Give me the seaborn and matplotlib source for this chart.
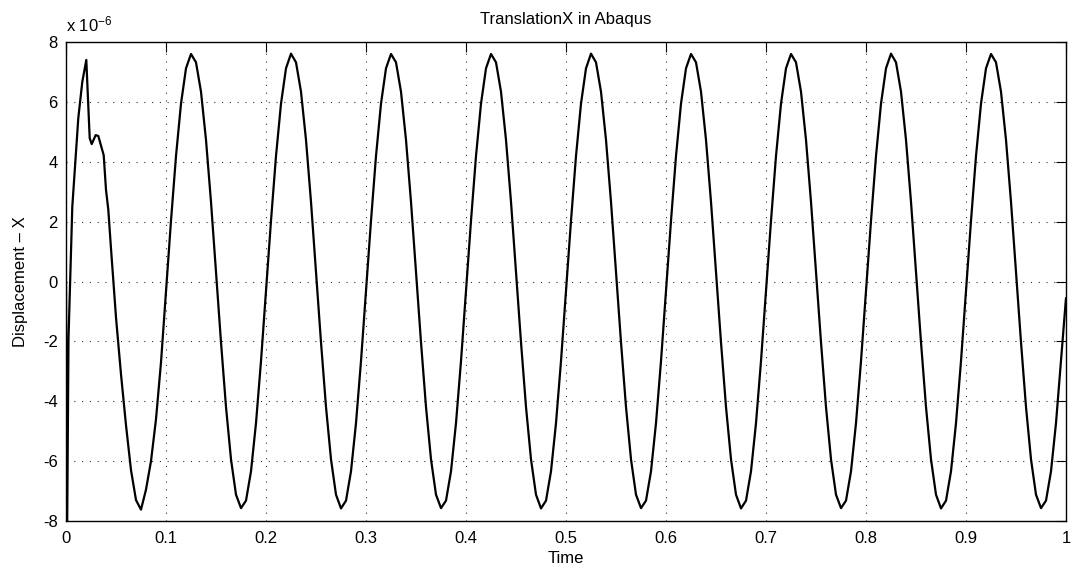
import numpy as np
import matplotlib
matplotlib.use("Agg")
import matplotlib.pyplot as plt
import seaborn as sns
import pandas as pd

# ---- data (displacement in units of 1e-6) ----
time_start = [0.0, 0.001, 0.0025, 0.0063, 0.0123, 0.0163, 0.0203, 0.0237,
              0.0257, 0.0297, 0.0323, 0.0377, 0.040, 0.0423]
disp_start = [0.0, -9.0, -1.9, 2.5, 5.46, 6.67, 7.40, 4.79,
              4.59, 4.89, 4.86, 4.22, 3.06, 2.40]

# regularly sampled output from t = 0.045 to t = 1.0 (step 0.005)
disp_steady = [
    1.10, -1.20, -3.10, -4.80, -6.30, -7.30, -7.62, -6.95, -6.00, -4.60, -2.70,
    -0.33, 2.03, 4.19, 5.94, 7.12, 7.60, 7.32, 6.34, 4.73, 2.66,
    0.33, -2.03, -4.19, -5.94, -7.12, -7.57, -7.32, -6.34, -4.73, -2.66,
    -0.33, 2.03, 4.19, 5.94, 7.12, 7.61, 7.32, 6.34, 4.73, 2.66,
    0.33, -2.03, -4.19, -5.94, -7.12, -7.58, -7.32, -6.34, -4.73, -2.66,
    -0.33, 2.03, 4.19, 5.94, 7.12, 7.60, 7.32, 6.34, 4.73, 2.66,
    0.33, -2.03, -4.19, -5.94, -7.12, -7.57, -7.32, -6.34, -4.73, -2.66,
    -0.33, 2.03, 4.19, 5.94, 7.12, 7.60, 7.32, 6.34, 4.73, 2.66,
    0.33, -2.03, -4.19, -5.94, -7.12, -7.58, -7.32, -6.34, -4.73, -2.66,
    -0.33, 2.03, 4.19, 5.94, 7.12, 7.61, 7.32, 6.34, 4.73, 2.66,
    0.33, -2.03, -4.19, -5.94, -7.12, -7.57, -7.32, -6.34, -4.73, -2.66,
    -0.33, 2.03, 4.19, 5.94, 7.12, 7.60, 7.32, 6.34, 4.73, 2.66,
    0.33, -2.03, -4.19, -5.94, -7.12, -7.58, -7.32, -6.34, -4.73, -2.66,
    -0.33, 2.03, 4.19, 5.94, 7.12, 7.60, 7.32, 6.34, 4.73, 2.66,
    0.33, -2.03, -4.19, -5.94, -7.12, -7.57, -7.32, -6.34, -4.73, -2.66,
    -0.33, 2.03, 4.19, 5.94, 7.12, 7.61, 7.32, 6.34, 4.73, 2.66,
    0.33, -2.03, -4.19, -5.94, -7.12, -7.58, -7.32, -6.34, -4.73, -2.66,
    -0.33, 2.03, 4.19, 5.94, 7.12, 7.60, 7.32, 6.34, 4.73, 2.66,
    0.33, -2.03, -4.19, -5.94, -7.12, -7.57, -7.32, -6.34, -4.73, -2.66,
    -0.55,
]
time_steady = list(np.round(np.arange(45, 1001, 5) / 1000.0, 4))

x_ticks = [0, 0.1, 0.2, 0.3, 0.4, 0.5, 0.6, 0.7, 0.8, 0.9, 1]
x_tick_labels = ["0", "0.1", "0.2", "0.3", "0.4", "0.5", "0.6", "0.7", "0.8", "0.9", "1"]
y_ticks = [-8, -6, -4, -2, 0, 2, 4, 6, 8]
y_tick_labels = ["-8", "-6", "-4", "-2", "0", "2", "4", "6", "8"]

title = "TranslationX in Abaqus"
x_label = "Time"
y_label = "Displacement \u2013 X"

df = pd.DataFrame({
    "Time": list(time_start) + time_steady,
    "Disp": [v * 1e-6 for v in (list(disp_start) + disp_steady)],
})

# ---- style ----
sns.set_theme(style="white")
plt.rcParams["font.family"] = ["Liberation Sans", "DejaVu Sans"]
plt.rcParams["axes.unicode_minus"] = False
plt.rcParams["mathtext.fontset"] = "custom"
plt.rcParams["mathtext.rm"] = "Liberation Sans"
plt.rcParams["mathtext.it"] = "Liberation Sans"
plt.rcParams["mathtext.default"] = "rm"
plt.rcParams["text.color"] = "black"
plt.rcParams["axes.labelcolor"] = "black"
plt.rcParams["xtick.color"] = "black"
plt.rcParams["ytick.color"] = "black"
fs = 12

fig = plt.figure(figsize=(10.8, 5.69), dpi=100)
ax = fig.add_axes([66 / 1080, 1 - 521 / 569, 1000 / 1080, 479 / 569])

sns.lineplot(data=df, x="Time", y="Disp", ax=ax, color="black", linewidth=1.6,
             sort=False, estimator=None)

ax.set_xlim(0, 1)
ax.set_ylim(-8e-6, 8e-6)
ax.set_xticks(x_ticks)
ax.set_xticklabels(x_tick_labels, fontsize=fs)
ax.set_yticks([v * 1e-6 for v in y_ticks])
ax.set_yticklabels(y_tick_labels, fontsize=fs)

ax.grid(True, color="#333333", linestyle=(0, (1, 6)), linewidth=0.8)
ax.tick_params(direction="in", length=7, width=0.8, top=True, right=True,
               colors="black")
ax.tick_params(axis="x", pad=7)
ax.tick_params(axis="y", pad=6)
for s in ax.spines.values():
    s.set_visible(True)
    s.set_color("black")
    s.set_linewidth(1.0)

ax.set_title(title, fontsize=fs, pad=13, color="black")
ax.set_xlabel(x_label, fontsize=fs, labelpad=4)
ax.set_ylabel(y_label, fontsize=fs, labelpad=11)

ax.text(0.0, 1.016, r"x 10$^{-6}$", transform=ax.transAxes, fontsize=fs,
        ha="left", va="bottom")

fig.savefig("out.png", dpi=100)
